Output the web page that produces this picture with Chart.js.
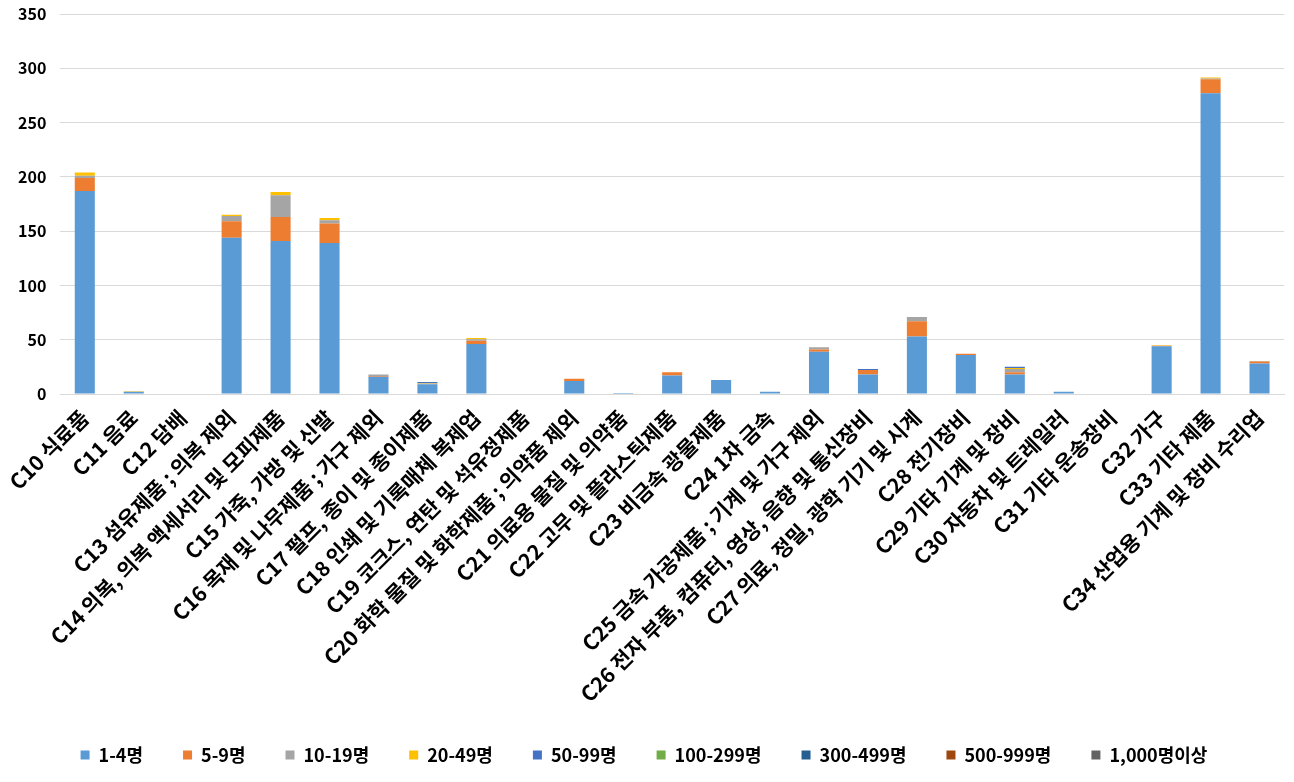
<!DOCTYPE html>
<html>
<head>
<meta charset="utf-8">
<script src="https://cdn.jsdelivr.net/npm/chart.js@4.4.1/dist/chart.umd.min.js"></script>
<style>
  html, body { margin: 0; padding: 0; background: #fff; }
  #wrap { width: 1294px; height: 782px; position: relative; }
</style>
</head>
<body>
<div id="wrap"><canvas id="c"></canvas></div>
<script>
// categories (업종)
const categories = [
  'C10 식료품', 'C11 음료', 'C12 담배', 'C13 섬유제품 ; 의복 제외',
  'C14 의복, 의복 액세서리 및 모피제품', 'C15 가죽, 가방 및 신발',
  'C16 목재 및 나무제품 ; 가구 제외', 'C17 펄프, 종이 및 종이제품',
  'C18 인쇄 및 기록매체 복제업', 'C19 코크스, 연탄 및 석유정제품',
  'C20 화학 물질 및 화학제품 ; 의약품 제외', 'C21 의료용 물질 및 의약품',
  'C22 고무 및 플라스틱제품', 'C23 비금속 광물제품', 'C24 1차 금속',
  'C25 금속 가공제품 ; 기계 및 가구 제외', 'C26 전자 부품, 컴퓨터, 영상, 음향 및 통신장비',
  'C27 의료, 정밀, 광학 기기 및 시계', 'C28 전기장비', 'C29 기타 기계 및 장비',
  'C30 자동차 및 트레일러', 'C31 기타 운송장비', 'C32 가구', 'C33 기타 제품',
  'C34 산업용 기계 및 장비 수리업'
];

// series values, one per size class
const s1to4    = [187, 2, 0, 144, 141, 139, 16, 9, 46, 0, 12, 1, 17, 13, 2, 39, 18, 53, 36, 18, 2, 0, 44, 277, 28];
const s5to9    = [12, 0, 0, 15, 22, 18, 0.5, 0, 3, 0, 2, 0, 3, 0, 0, 2, 4, 14, 1, 2, 0, 0, 0.5, 13, 2];
const s10to19  = [2, 0, 0, 5, 20, 3, 1.5, 0.5, 1.5, 0, 0, 0, 0, 0, 0, 2, 0, 4, 0, 3, 0, 0, 0, 0.5, 0.5];
const s20to49  = [3, 0.5, 0, 1, 3, 2, 0, 0.5, 1, 0, 0, 0, 0, 0, 0, 0, 0, 0, 0, 1, 0, 0, 0.5, 1, 0];
const s50to99  = [0, 0, 0, 0, 0, 0, 0, 1, 0, 0, 0, 0, 0, 0, 0, 0, 1, 0, 0, 1, 0, 0, 0, 0, 0];
const s100to299 = new Array(categories.length).fill(0);
const s300to499 = new Array(categories.length).fill(0);
const s500to999 = new Array(categories.length).fill(0);
const s1000plus = new Array(categories.length).fill(0);

const seriesNames = ['1-4명', '5-9명', '10-19명', '20-49명', '50-99명', '100-299명', '300-499명', '500-999명', '1,000명이상'];
const seriesData = [s1to4, s5to9, s10to19, s20to49, s50to99, s100to299, s300to499, s500to999, s1000plus];
const colors = ['#5B9BD5', '#ED7D31', '#A5A5A5', '#FFC000', '#4472C4', '#70AD47', '#255E91', '#9E480E', '#636363'];

// y axis ticks
const yMax = 350;
const yStep = 50;

const FONT = '"Noto Sans CJK KR", "Noto Sans", sans-serif';

new Chart(document.getElementById('c'), {
  type: 'bar',
  data: {
    labels: categories,
    datasets: seriesNames.map((n, i) => ({
      label: n,
      data: seriesData[i],
      backgroundColor: colors[i],
      borderWidth: 0,
      barPercentage: 0.41,
      categoryPercentage: 1
    }))
  },
  options: {
    responsive: true,
    maintainAspectRatio: false,
    animation: false,
    layout: { padding: { left: 4, right: 10, top: 14, bottom: 8 } },
    plugins: {
      tooltip: { enabled: false },
      legend: {
        position: 'bottom',
        labels: {
          boxWidth: 9,
          boxHeight: 9,
          padding: 40,
          color: '#000',
          font: { family: FONT, size: 18, weight: 'bold' }
        }
      }
    },
    scales: {
      x: {
        stacked: true,
        grid: { display: false },
        border: { color: '#d9d9d9' },
        afterFit: (scale) => { scale.height = 312; },
        ticks: {
          autoSkip: false,
          maxRotation: 45,
          minRotation: 45,
          color: '#000',
          font: { family: FONT, size: 21, weight: 'bold' }
        }
      },
      y: {
        stacked: true,
        min: 0,
        max: yMax,
        grid: { color: '#d9d9d9', drawTicks: false },
        border: { display: false },
        afterFit: (scale) => { scale.paddingTop = 0; },
        ticks: {
          stepSize: yStep,
          padding: 14,
          color: '#000',
          font: { family: FONT, size: 16, weight: 'bold' }
        }
      }
    }
  }
});
</script>
</body>
</html>
